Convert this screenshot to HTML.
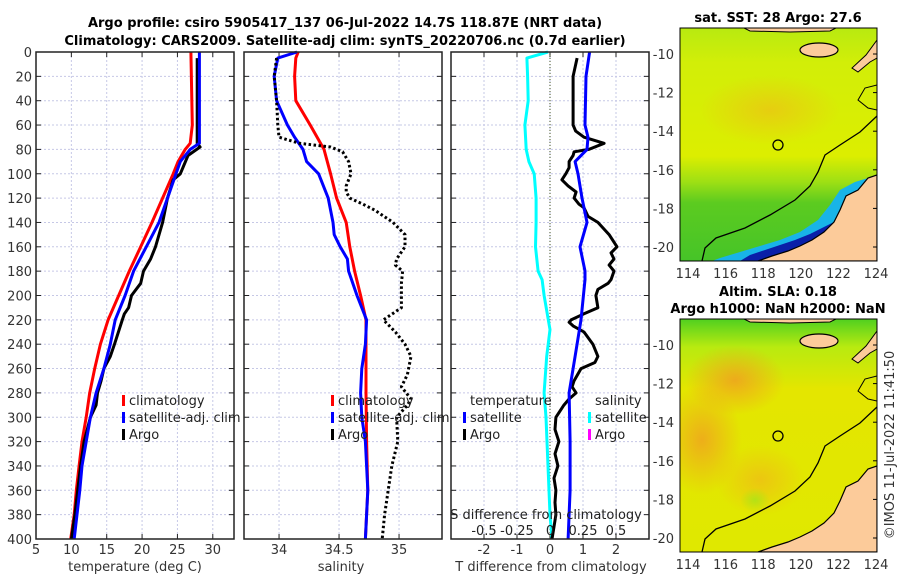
<!DOCTYPE html>
<html><head><meta charset="utf-8"><style>
body{margin:0;background:#fff;}
svg{display:block;font-family:"DejaVu Sans","Liberation Sans",sans-serif;}
</style></head><body>
<svg id="fig" width="900" height="580" viewBox="0 0 900 580">
<defs>
<linearGradient id="sstGrad" x1="0" y1="0" x2="0" y2="1">
<stop offset="0" stop-color="#b8ea10"/><stop offset="0.15" stop-color="#d2ee08"/><stop offset="0.55" stop-color="#dcee00"/><stop offset="0.66" stop-color="#9ee014"/><stop offset="0.75" stop-color="#5ccb20"/><stop offset="1" stop-color="#46c428"/>
</linearGradient>
<linearGradient id="slaGrad" x1="0" y1="0" x2="0" y2="1">
<stop offset="0" stop-color="#50d020"/><stop offset="0.12" stop-color="#b8ea10"/><stop offset="0.3" stop-color="#e4e600"/><stop offset="1" stop-color="#e0e800"/>
</linearGradient>
<radialGradient id="orangeBlob"><stop offset="0" stop-color="#f0a020"/><stop offset="1" stop-color="#f0a020" stop-opacity="0"/></radialGradient>
<radialGradient id="orangeBlob2"><stop offset="0" stop-color="#f0b818"/><stop offset="1" stop-color="#f0b818" stop-opacity="0"/></radialGradient>
<radialGradient id="greenBlob"><stop offset="0" stop-color="#a8e418"/><stop offset="1" stop-color="#a8e418" stop-opacity="0"/></radialGradient>
<clipPath id="clip-sst-map"><rect x="680" y="28" width="197" height="233"/></clipPath>
<clipPath id="clip-sla-map"><rect x="680" y="319" width="197" height="233"/></clipPath>
</defs>
<g id="plots"></g>
<g id="maps"></g>
<text x="345" y="27" text-anchor="middle" font-size="13" font-weight="bold">Argo profile: csiro 5905417_137 06-Jul-2022 14.7S 118.87E (NRT data)</text>
<text x="345" y="45" text-anchor="middle" font-size="13" font-weight="bold">Climatology: CARS2009. Satellite-adj clim: synTS_20220706.nc (0.7d earlier)</text>
<text x="778" y="22" text-anchor="middle" font-size="13" font-weight="bold">sat. SST: 28 Argo: 27.6</text>
<text x="778" y="296" text-anchor="middle" font-size="13" font-weight="bold">Altim. SLA: 0.18</text>
<text x="778" y="313" text-anchor="middle" font-size="13" font-weight="bold">Argo h1000: NaN h2000: NaN</text>
<text transform="translate(894,445) rotate(-90)" text-anchor="middle" font-size="13" fill="#333">©IMOS 11-Jul-2022 11:41:50</text>
</svg>
<script>
// depth levels (m)
const depthTicks = [0,20,40,60,80,100,120,140,160,180,200,220,240,260,280,300,320,340,360,380,400];
// temperature panel
const tempTicks = [5,10,15,20,25,30];
const tClimDepth = [0,60,75,80,90,100,120,140,160,180,200,220,240,260,280,300,320,340,360,380,400];
const tClim = [26.9,27.1,26.8,26.1,25.1,24.4,22.9,21.4,19.8,18.2,16.7,15.2,14.1,13.3,12.6,12.1,11.5,11.1,10.7,10.4,9.9];
const tSatDepth = [0,75,80,90,100,120,140,160,180,200,220,240,260,280,300,320,340,360,380,400];
const tSat = [28.1,28.1,26.8,25.4,24.8,23.6,22.4,20.6,18.8,17.6,16.2,15.5,14.6,13.5,12.7,12.1,11.5,11.2,10.8,10.4];
const tArgoDepth = [5,75,78,85,100,105,120,140,160,170,180,190,200,210,215,220,240,250,260,270,280,290,300,320,340,360,380,400];
const tArgo = [27.8,27.8,28.2,26.5,25.4,24.4,23.6,22.9,21.9,21.2,20.2,19.8,18.5,18.1,17.5,17.2,16.1,15.5,14.6,14.2,13.7,13.5,12.7,11.8,11.3,10.9,10.5,10.0];
// salinity panel
const salTicks = [34,34.5,35];
const sClimDepth = [0,5,20,40,60,80,100,120,140,160,180,200,220,240,280,320,360,400];
const sClim = [34.16,34.14,34.13,34.14,34.26,34.375,34.43,34.48,34.56,34.59,34.63,34.68,34.725,34.725,34.725,34.73,34.74,34.72];
const sSatDepth = [0,5,20,40,60,70,80,90,100,120,140,150,160,170,180,200,220,240,260,280,300,320,340,360,380,400];
const sSat = [34.15,33.99,33.96,33.98,34.07,34.13,34.2,34.23,34.33,34.41,34.45,34.46,34.51,34.57,34.58,34.65,34.73,34.72,34.69,34.68,34.69,34.72,34.73,34.74,34.73,34.72];
const sArgoDepth = [5,20,40,60,70,75,78,82,90,100,110,115,120,125,130,140,150,160,170,175,180,190,200,210,220,230,240,250,265,275,285,290,300,320,340,360,380,400];
const sArgo = [33.98,33.96,33.98,33.99,34.0,34.17,34.43,34.53,34.58,34.6,34.56,34.56,34.59,34.7,34.8,34.95,35.05,35.05,34.98,34.97,35.03,35.02,35.02,35.02,34.87,34.97,35.05,35.1,35.07,35.02,35.1,35.07,34.98,34.99,34.94,34.91,34.88,34.86];
// difference panel (T units; S diff shown x4)
const dTicks = [-2,-1,0,1,2];
const dSTickLabels = ['-0.5','-0.25','0','0.25','0.5'];
const dSDepth = [0,5,20,40,60,80,90,100,120,140,160,180,187,200,228,250,280,300,340,380,400];
const dSat_S = [-0.015,-0.175,-0.17,-0.165,-0.19,-0.18,-0.16,-0.12,-0.105,-0.105,-0.11,-0.09,-0.06,-0.045,0,-0.025,-0.045,-0.03,-0.015,0,0.015];
const dTSatDepth = [0,20,60,70,80,90,100,120,140,160,180,187,220,250,280,320,360,400];
const dTSat = [1.2,1.09,1.06,1.15,1.12,0.76,0.85,0.97,1.12,0.91,1.06,1.06,0.94,0.76,0.58,0.61,0.61,0.55];
const dTArgoDepth = [5,20,40,60,65,70,75,80,82,85,90,95,100,105,110,115,120,125,128,135,140,150,160,165,170,175,180,187,190,195,200,210,215,220,222,225,230,240,250,255,260,270,275,280,285,290,300,310,320,330,340,350,360,370,380,390,400];
const dTArgo = [0.82,0.7,0.7,0.7,0.78,1.03,1.64,1.18,0.73,0.7,0.58,0.58,0.48,0.36,0.55,0.79,0.73,0.88,1.03,1.15,1.45,1.79,2.03,1.85,1.94,1.79,1.94,1.85,1.76,1.45,1.39,1.45,1.03,0.64,0.58,0.7,1.03,1.3,1.45,1.36,0.94,0.73,0.67,0.79,0.58,0.42,0.18,0.15,0.27,0.15,0.24,0.12,0.18,0.15,0.18,0.12,0.06];
// map tick labels
const latTicks = [-10,-12,-14,-16,-18,-20];
const lonTicks = [114,116,118,120,122,124];

const NS='http://www.w3.org/2000/svg';
const plotsG=document.getElementById('plots');
const mapsG=document.getElementById('maps');
function mk(tag,attrs,parent){const e=document.createElementNS(NS,tag);for(const k in attrs)e.setAttribute(k,attrs[k]);(parent||plotsG).appendChild(e);return e;}
const yTop=52,yBot=539;
function yD(d){return yTop+(d/400)*(yBot-yTop);}
function axisX(x0,x1,v0,v1){return v=>x0+(v-v0)/(v1-v0)*(x1-x0);}
const xT=axisX(36,234,5,33);
const xS=axisX(244,442,33.708,35.358);
const xDf=axisX(451,649,-3,3);

function panel(name,x0,x1,vTicks,xf,showY){
  const g=mk('g',{});
  
  
  depthTicks.forEach(d=>{
    const y=yD(d);
    if(d>0&&d<400){const l=mk('line',{x1:x0,x2:x1,y1:y,y2:y,stroke:'#c6c8e6','stroke-width':1,'stroke-dasharray':'2 2'},g);
    }
    mk('line',{x1:x0,x2:x0+5,y1:y,y2:y,stroke:'#222'},g);
    mk('line',{x1:x1-5,x2:x1,y1:y,y2:y,stroke:'#222'},g);
    if(showY){const t=mk('text',{x:x0-4,y:y+5,'text-anchor':'end','font-size':13,fill:'#333'},g);t.textContent=d;
    }
  });
  vTicks.forEach(v=>{const x=xf(v);
    const l=mk('line',{x1:x,x2:x,y1:yTop,y2:yBot,stroke:'#c6c8e6','stroke-width':1,'stroke-dasharray':'2 2'},g);
    
    mk('line',{x1:x,x2:x,y1:yBot-5,y2:yBot,stroke:'#222'},g);
    mk('line',{x1:x,x2:x,y1:yTop,y2:yTop+5,stroke:'#222'},g);
  });
  return g;
}
function frame(g,x0,x1){const r=mk('rect',{x:x0,y:yTop,width:x1-x0,height:yBot-yTop,fill:'none',stroke:'#222','stroke-width':1.5},g);
}
function line(g,depths,vals,xf,color,name,dash){
  const pts=depths.map((d,i)=>xf(vals[i]).toFixed(1)+','+yD(d).toFixed(1)).join(' ');
  const p=mk('polyline',{points:pts,fill:'none',stroke:color,'stroke-width':3,'stroke-linejoin':'round'},g);
  if(dash)p.setAttribute('stroke-dasharray',dash);
  
  
}
function text(g,x,y,s,opts,name){const t=mk('text',Object.assign({x:x,y:y,'font-size':13,fill:'#222'},opts||{}),g);t.textContent=s;
return t;}
function legend(g,x,y,color,label,name){
  const m=mk('rect',{x:x-2,y:y-10,width:3,height:11,fill:color},g);
  
  text(g,x+5,y,label,{},name);
}

// Panel 1
let g1=panel('temperature-panel',36,234,tempTicks.slice(1),xT,true);
line(g1,tClimDepth,tClim,xT,'#ff0000','temp-climatology-line');
line(g1,tArgoDepth,tArgo,xT,'#000000','temp-argo-line');
line(g1,tSatDepth,tSat,xT,'#0000ff','temp-satellite-line');
frame(g1,36,234);
tempTicks.forEach(v=>text(g1,xT(v),554,v,{'text-anchor':'middle',fill:'#333'},'temp-tick-label'));
text(g1,135,571,'temperature (deg C)',{'text-anchor':'middle',fill:'#333'},'temp-x-axis-title');
legend(g1,124,405,'#ff0000','climatology','legend-climatology');
legend(g1,124,422,'#0000ff','satellite-adj. clim','legend-satellite-adj');
legend(g1,124,439,'#000000','Argo','legend-argo');

// Panel 2
let g2=panel('salinity-panel',244,442,salTicks,xS,false);
line(g2,sClimDepth,sClim,xS,'#ff0000','sal-climatology-line');
line(g2,sSatDepth,sSat,xS,'#0000ff','sal-satellite-line');
line(g2,sArgoDepth,sArgo,xS,'#000000','sal-argo-line','2.5 2.5');
frame(g2,244,442);
salTicks.forEach(v=>text(g2,xS(v),554,v,{'text-anchor':'middle',fill:'#333'},'sal-tick-label'));
text(g2,341,571,'salinity',{'text-anchor':'middle',fill:'#333'},'sal-x-axis-title');
legend(g2,333,405,'#ff0000','climatology','legend-climatology');
legend(g2,333,422,'#0000ff','satellite-adj. clim','legend-satellite-adj');
legend(g2,333,439,'#000000','Argo','legend-argo');

// Panel 3
let g3=panel('difference-panel',451,649,dTicks,xDf,false);
const zl=mk('line',{x1:xDf(0),x2:xDf(0),y1:yTop,y2:yBot,stroke:'#445522','stroke-width':1,'stroke-dasharray':'1 2'},g3);

line(g3,dSDepth,dSat_S.map(v=>v*4),xDf,'#00ffff','sal-diff-satellite-line');
line(g3,dTArgoDepth,dTArgo,xDf,'#000000','temp-diff-argo-line');
line(g3,dTSatDepth,dTSat,xDf,'#0000ff','temp-diff-satellite-line');
frame(g3,451,649);
dTicks.forEach(v=>text(g3,xDf(v),554,v,{'text-anchor':'middle',fill:'#333'},'tdiff-tick-label'));
dTicks.forEach((v,i)=>text(g3,xDf(v),535,dSTickLabels[i],{'text-anchor':'middle'},'sdiff-tick-label'));
text(g3,546,519,'S difference from climatology',{'text-anchor':'middle'},'sdiff-axis-title');
text(g3,551,571,'T difference from climatology',{'text-anchor':'middle',fill:'#333'},'tdiff-x-axis-title');
text(g3,470,405,'temperature',{},'legend-temperature-header');
text(g3,595,405,'salinity',{},'legend-salinity-header');
legend(g3,465,422,'#0000ff','satellite','legend-temp-satellite');
legend(g3,465,439,'#000000','Argo','legend-temp-argo');
legend(g3,590,422,'#00ffff','satellite','legend-sal-satellite');
legend(g3,590,439,'#ff00ff','Argo','legend-sal-argo');

// Maps
function map(name,y0,fill,clip,blobs){
  const g=mk('g',{},mapsG);
  
  const x0=680,x1=877,h=233,dy=y0-28;
  const latY=v=>y0+26+((-10-v)/10)*193;
  const lonX=v=>688+(v-114)/10*188;
  const inner=mk('g',{'clip-path':'url(#'+clip+')'},g);
  mk('rect',{x:x0,y:y0,width:x1-x0,height:h,fill:fill},inner);
  blobs(inner,dy);
  const T=pts=>pts.map(p=>p[0]+','+(p[1]+dy)).join(' ');
  const land=mk('polygon',{points:T([[877,175],[868,178],[858,190],[846,196],[840,210],[834,222],[824,232],[812,240],[800,246],[788,251],[772,256],[758,261],[877,261]]),fill:'#fccb9a',stroke:'#000','stroke-width':1.2},inner);
  
  const isl=mk('ellipse',{cx:819,cy:50+dy,rx:19,ry:7,fill:'#fccb9a',stroke:'#000','stroke-width':1.2},inner);
  
  mk('polygon',{points:T([[740,26],[840,26],[830,31],[790,32],[750,31]]),fill:'#fccb9a',stroke:'#000','stroke-width':1},inner);
  mk('polygon',{points:T([[877,40],[866,55],[852,68],[858,72],[870,62],[877,58]]),fill:'#fccb9a',stroke:'#000','stroke-width':1},inner);
  mk('polyline',{points:T([[877,85],[865,88],[858,100],[868,108],[877,110]]),fill:'none',stroke:'#000','stroke-width':1},inner);
  const iso=mk('polyline',{points:T([[702,261],[705,248],[716,238],[745,228],[770,215],[795,200],[810,186],[818,172],[825,155],[840,145],[860,132],[877,116]]),fill:'none',stroke:'#000','stroke-width':1.3},inner);
  
  const c=mk('circle',{cx:778,cy:145+dy,r:5,fill:'none',stroke:'#000','stroke-width':1.3},g);
  
  mk('rect',{x:x0,y:y0,width:x1-x0,height:h,fill:'none',stroke:'#000','stroke-width':1},g);
  latTicks.forEach(v=>{const y=latY(v);mk('line',{x1:x1-4,x2:x1,y1:y,y2:y,stroke:'#000'},g);
    const t=mk('text',{x:674,y:y+5,'text-anchor':'end','font-size':13,fill:'#333'},g);t.textContent=v;
    });
  lonTicks.forEach(v=>{const x=lonX(v);
    const t=mk('text',{x:x,y:y0+h+17,'text-anchor':'middle','font-size':13,fill:'#333'},g);t.textContent=v;
    });
}
map('sst-map',28,'url(#sstGrad)','clip-sst-map',(g,dy)=>{
  mk('ellipse',{cx:770,cy:110,rx:70,ry:35,fill:'url(#orangeBlob2)',opacity:0.6},g);
  mk('polygon',{points:'760,261 772,256 788,251 800,246 812,240 824,232 834,222 840,210 846,196 858,190 868,178 855,182 840,190 830,205 818,220 800,232 780,240 760,246 740,252 720,258 712,261',fill:'#18b4e8'},g);
  mk('polygon',{points:'740,261 758,261 772,256 788,251 800,246 812,240 824,232 834,222 826,226 810,234 795,240 780,245 765,250 750,255',fill:'#0a1fa8'},g);
});
map('sla-map',319,'url(#slaGrad)','clip-sla-map',(g,dy)=>{
  mk('ellipse',{cx:735,cy:380,rx:50,ry:35,fill:'url(#orangeBlob)',opacity:0.85},g);
  mk('ellipse',{cx:702,cy:440,rx:40,ry:55,fill:'url(#orangeBlob)',opacity:0.8},g);
  mk('ellipse',{cx:760,cy:480,rx:45,ry:35,fill:'url(#orangeBlob2)',opacity:0.7},g);
  mk('ellipse',{cx:755,cy:500,rx:15,ry:12,fill:'url(#greenBlob)',opacity:0.8},g);
});
</script>
</body></html>
